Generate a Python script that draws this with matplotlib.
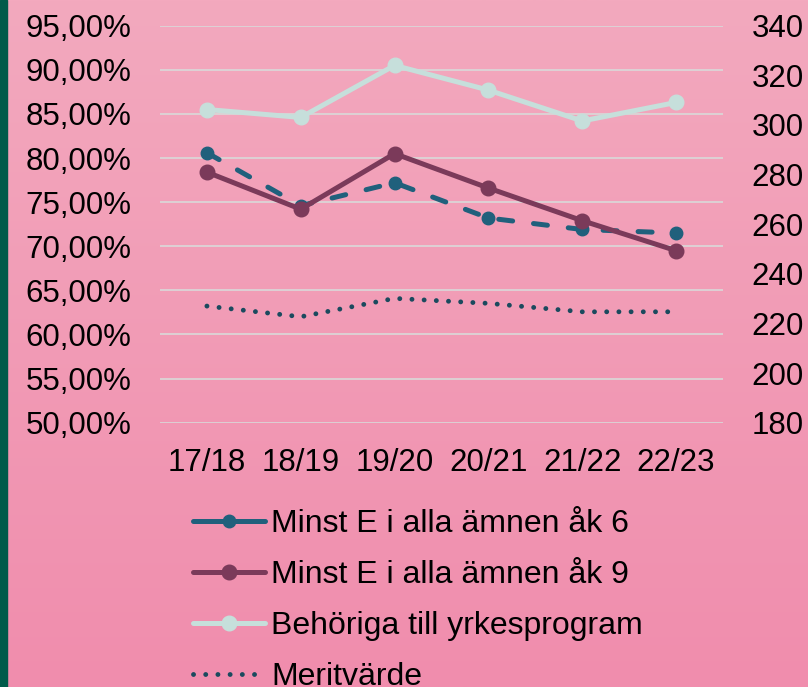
import matplotlib
matplotlib.use("Agg")
import matplotlib.pyplot as plt
import numpy as np
from matplotlib.patches import Rectangle
from matplotlib.lines import Line2D
from matplotlib.colors import LinearSegmentedColormap

plt.rcParams['font.family'] = ['Liberation Sans', 'DejaVu Sans']

categories = ["17/18", "18/19", "19/20", "20/21", "21/22", "22/23"]
ak6 = [0.806, 0.746, 0.772, 0.732, 0.719, 0.715]
ak9 = [0.784, 0.742, 0.805, 0.766, 0.729, 0.695]
behoriga = [0.855, 0.846, 0.905, 0.877, 0.842, 0.863]
merit = [227.0, 222.7, 230.1, 228.1, 224.7, 224.7]

left_ticks = [0.50, 0.55, 0.60, 0.65, 0.70, 0.75, 0.80, 0.85, 0.90, 0.95]
left_labels = ["50,00%", "55,00%", "60,00%", "65,00%", "70,00%", "75,00%",
               "80,00%", "85,00%", "90,00%", "95,00%"]
right_ticks = [180, 200, 220, 240, 260, 280, 300, 320, 340]

names = ["Minst E i alla ämnen åk 6", "Minst E i alla ämnen åk 9",
         "Behöriga till yrkesprogram", "Meritvärde"]

c6, c9, cb, cm = "#20607c", "#7b3a5a", "#c6dfdb", "#1b4a5e"

W, H = 808, 687
fig = plt.figure(figsize=(W / 100, H / 100), dpi=100)

# background gradient
bg = fig.add_axes([0, 0, 1, 1], zorder=-10)
cmap = LinearSegmentedColormap.from_list("bg", ["#f3a9be", "#f08dad"])
grad = np.linspace(0, 1, 256).reshape(-1, 1)
bg.imshow(grad, aspect="auto", cmap=cmap, extent=[0, 1, 0, 1])
bg.set_axis_off()
fig.patches.append(Rectangle((0, 0), 6.5 / W, 1, transform=fig.transFigure,
                             color="#005a4a", zorder=5))

ax = fig.add_axes([160 / W, 1 - 422.7 / H, (723 - 160) / W, (422.7 - 25.7) / H])
ax.patch.set_alpha(0)
ax2 = ax.twinx()
ax2.patch.set_alpha(0)

x = np.arange(len(categories))
lw = 3.6
ms = 10.5

ax.set_ylim(0.50, 0.95)
ax.set_xlim(-0.5, len(categories) - 0.5)
ax2.set_ylim(180, 340)

for t in left_ticks:
    ax.axhline(t, color="#d9d9d9", lw=1.2, zorder=0)

ax.plot(x, ak6, color=c6, lw=lw, marker="o", ms=9,
        linestyle=(0, (2.8, 4.2)), dash_capstyle="round", zorder=3)
ax.plot(x, ak9, color=c9, lw=lw, marker="o", ms=ms,
        solid_capstyle="round", zorder=4)
ax.plot(x, behoriga, color=cb, lw=lw, marker="o", ms=ms,
        solid_capstyle="round", zorder=5)
ax2.plot(x, merit, color=cm, lw=3.5,
         linestyle=(0, (0.01, 2.5)), dash_capstyle="round", zorder=6)

for a in (ax, ax2):
    for s in a.spines.values():
        s.set_visible(False)

ax.set_yticks(left_ticks)
ax.set_yticklabels(left_labels)
ax2.set_yticks(right_ticks)
ax2.set_yticklabels([str(v) for v in right_ticks])
ax.set_xticks(x)
ax.set_xticklabels(categories)
ax.tick_params(axis="y", length=0, pad=20.5, labelsize=22.5, labelcolor="black")
ax2.tick_params(axis="y", length=0, pad=20.5, labelsize=22.5, labelcolor="black")
ax.tick_params(axis="x", length=0, pad=18, labelsize=22.5, labelcolor="black")

h1 = Line2D([], [], color=c6, lw=lw, marker="o", ms=9, solid_capstyle="round")
h2 = Line2D([], [], color=c9, lw=lw, marker="o", ms=ms, solid_capstyle="round")
h3 = Line2D([], [], color=cb, lw=lw, marker="o", ms=ms, solid_capstyle="round")
h4 = Line2D([], [], color=cm, lw=3.5, linestyle=(0, (0.01, 2.5)),
            dash_capstyle="round")

leg = fig.legend(handles=[h1, h2, h3, h4], labels=names, loc="upper left",
                 bbox_to_anchor=(193 / W, 1 - 509.5 / H), frameon=False,
                 fontsize=23, handlelength=2.25, handletextpad=0.19,
                 labelspacing=0.65, borderpad=0, borderaxespad=0)

fig.savefig("out.png", dpi=100)
